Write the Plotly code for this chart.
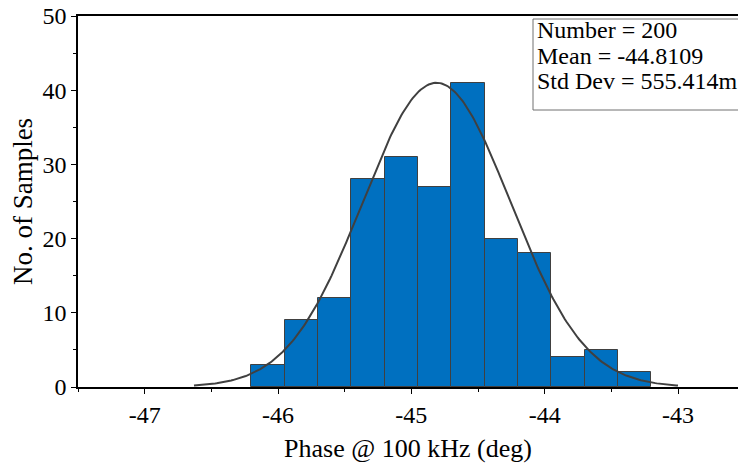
import numpy as np
import plotly.graph_objects as go

# histogram bins (deg) and counts
bin_centers = [-46.075, -45.825, -45.575, -45.325, -45.075, -44.825,
               -44.575, -44.325, -44.075, -43.825, -43.575, -43.325]
counts = [3, 9, 12, 28, 31, 27, 41, 20, 18, 4, 5, 2]
bin_width = 0.25

# fitted normal curve parameters
n_samples = 200
mean = -44.8109
std_dev = 0.555414
curve_peak = 41.0
curve_start = -46.63
curve_end = -43.0

stats_lines = [
    f"Number = {n_samples}",
    f"Mean = {mean}",
    "Std Dev = 555.414m",
]

FONT = "Liberation Serif"

curve_x = np.linspace(curve_start, curve_end, 300)
curve_y = curve_peak * np.exp(-0.5 * ((curve_x - mean) / std_dev) ** 2)

fig = go.Figure()
fig.add_trace(go.Bar(
    x=bin_centers,
    y=counts,
    width=bin_width,
    marker=dict(color="#0070C0", line=dict(color="#404040", width=1)),
    showlegend=False,
))
fig.add_trace(go.Scatter(
    x=curve_x,
    y=curve_y,
    mode="lines",
    line=dict(color="#404040", width=2),
    showlegend=False,
))

# plot area in pixels: x 78..738, y 16..387
def px_x(px):
    return (px - 78) / 660

def px_y(py):
    return (387 - py) / 371

fig.add_shape(
    type="rect", xref="paper", yref="paper",
    x0=px_x(533), x1=px_x(760), y0=px_y(110), y1=px_y(19),
    line=dict(color="#707070", width=1), fillcolor="white", layer="above",
)
for i, line in enumerate(stats_lines):
    fig.add_annotation(
        text=line, xref="paper", yref="paper",
        x=px_x(535), y=px_y(30 + 25.5 * i),
        xanchor="left", yanchor="middle", showarrow=False,
        font=dict(family=FONT, size=24, color="black"),
    )

fig.update_xaxes(
    range=[-47.5, -42.55],
    tickvals=[-47, -46, -45, -44, -43],
    ticktext=["-47", "-46", "-45", "-44", "-43"],
    ticks="outside", ticklen=5, tickwidth=1, tickcolor="black",
    minor=dict(dtick=0.5, tick0=-47, ticks="outside", ticklen=3, tickcolor="black"),
    showline=True, linecolor="black", linewidth=1.5, mirror=True,
    showgrid=False, zeroline=False, automargin=False,
    tickfont=dict(family=FONT, size=24, color="black"),
    title=dict(text="Phase @ 100 kHz (deg)", standoff=12,
               font=dict(family=FONT, size=26, color="black")),
)
fig.update_yaxes(
    range=[0, 50],
    dtick=10,
    ticks="outside", ticklen=5, tickwidth=1, tickcolor="black",
    minor=dict(dtick=5, ticks="outside", ticklen=3, tickcolor="black"),
    showline=True, linecolor="black", linewidth=1.5,
    showgrid=False, zeroline=False, automargin=False,
    ticklabeloverflow="allow",
    tickfont=dict(family=FONT, size=24, color="black"),
    title=dict(text="No. of Samples", standoff=2,
               font=dict(family=FONT, size=27, color="black")),
)
fig.update_layout(
    width=738, height=468,
    margin=dict(l=78, r=0, t=16, b=81),
    plot_bgcolor="white", paper_bgcolor="white",
    bargap=0,
)

# drop the default 8px body margin so the figure fills the window
fig.write_html(
    "out.html",
    config={"displayModeBar": False},
    post_script="document.body.style.margin = '0';",
)
